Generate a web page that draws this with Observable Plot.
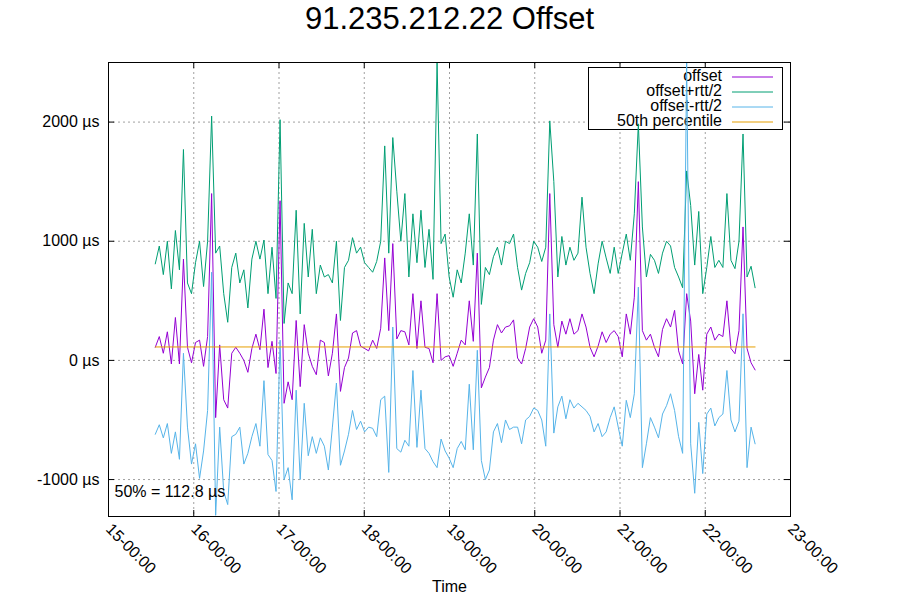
<!DOCTYPE html>
<html>
<head>
<meta charset="utf-8">
<script src="https://cdn.jsdelivr.net/npm/d3@7"></script>
<script src="https://cdn.jsdelivr.net/npm/@observablehq/plot@0.6"></script>
<style>
html, body { margin: 0; padding: 0; background: #fff; }
#chart { width: 900px; height: 600px; }
</style>
</head>
<body>
<div id="chart"></div>
<script>
const chartTitle = "91.235.212.22 Offset";
const xLabel = "Time";
const seriesNames = ["offset", "offset+rtt/2", "offset-rtt/2", "50th percentile"];
const seriesColors = ["#9400d3", "#009e73", "#56b4e9", "#e69f00"];
const medianValue = 112.8;
const startTime = "2024-01-15T13:10:00Z";
const stepMinutes = 68;
const xTickDays = [15, 16, 17, 18, 19, 20, 21, 22, 23];
const yTicks = [-1000, 0, 1000, 2000];
const xDomain = ["2024-01-15T00:00:00Z", "2024-01-23T00:00:00Z"];
const yDomain = [-1310, 2500];

// offset (µs)
const offset = [
  110, 200, 60, 240, -30, 360, -30, 850, 110, -20,
  150, 170, -50, 200, 1400, -480, 130, -330, -400, 60,
  110, 60, 0, -100, 100, 220, 90, 430, -60, 160,
  -110, 1340, -360, -180, -330, 335, -220, 300, 60, -50,
  -120, 170, 150, -130, 60, 390, -260, -60, 20, 230,
  250, 120, 100, 80, 170, 100, 270, 860, 250, 980,
  180, 250, 240, 130, 560, 100, 500, 110, 100, -20,
  560, 0, 30, 40, -50, 60, 170, 130, 500, 160,
  900, -230, -140, -60, 170, 300, 230, 280, 290, 340,
  20, -30, 100, 280, 350, 280, 60, 170, 1400, 300,
  110, 330, 220, 350, 220, 250, 390, 280, 110, 30,
  120, 240, 150, 220, 250, 200, 30, 390, 220, 530,
  1500, 250, 170, 220, 110, 30, 260, 350, 280, 420,
  80, -30, 560, 330, -280, 50, -250, 220, 280, 170,
  220, 200, 500, 100, 56, 250, 1120, 100, -20, -80
];
// offset + rtt/2 (µs)
const offsetPlus = [
  810, 960, 720, 1000, 600, 1090, 760, 1770, 650, 560,
  820, 1000, 620, 1000, 2050, 900, 960, 560, 320, 780,
  900, 650, 760, 440, 850, 1000, 850, 1010, 560, 950,
  520, 2020, 310, 650, 560, 1260, 390, 1150, 700, 1100,
  560, 800, 700, 720, 650, 1000, 335, 780, 840, 1030,
  900, 950, 820, 780, 740, 830, 1000, 1800, 900, 1870,
  1420, 1000, 1400, 700, 1230, 820, 1260, 780, 1100, 680,
  2500, 980, 1060, 700, 530, 760, 650, 900, 1230, 800,
  1900, 470, 780, 720, 870, 950, 800, 1000, 980, 1060,
  780, 590, 730, 820, 1000, 950, 830, 950, 2010, 1500,
  700, 1040, 800, 950, 840, 900, 1370, 950, 730, 560,
  810, 1000, 860, 730, 950, 730, 900, 1060, 840, 1230,
  1985, 1120, 700, 890, 840, 730, 900, 1000, 960, 780,
  700, 610, 1590, 1300, 800, 1250, 560, 780, 1040, 780,
  840, 780, 1400, 840, 770, 1000, 1900, 700, 790, 610
];
// offset - rtt/2 (µs)
const offsetMinus = [
  -620, -540, -650, -530, -780, -600, -830, 60, -560, -870,
  -700, -990, -760, -420, 740, -1300, -560, -1100, -1210, -640,
  -620, -560, -870, -780, -640, -530, -720, -170, -790, -840,
  -1100, 170, -1000, -900, -1170, -250, -1000, -360, -800, -640,
  -780, -650, -720, -920, -560, -190, -880, -760, -620, -420,
  -580, -510, -600, -560, -570, -640, -330, -300, -940, 280,
  -740, -770, -670, -720, -85, -730, -250, -740, -780, -850,
  -900, -660, -760, -820, -900, -740, -680, -750, -200, -750,
  85, -840, -1000, -920, -600, -530, -690, -500, -580, -560,
  -560, -700, -500, -470, -400, -420, -500, -720, 390, -610,
  -390, -300, -490, -330, -400, -360, -390, -420, -470, -600,
  -530, -640, -600, -480, -390, -560, -720, -335, -480, -280,
  615, -900, -700, -480, -560, -650, -450, -380, -280, -420,
  -640, -780, 2500, -700, -1115, -520, -950, -450, -400, -550,
  -480, -450, -85, -500, -600, -510, 391, -900, -560, -700
];

const t0 = new Date(startTime).getTime();
const times = offset.map((_, i) => new Date(t0 + i * stepMinutes * 60000));
const rows = times.map((t, i) => ({t, offset: offset[i], plus: offsetPlus[i], minus: offsetMinus[i]}));
const medianRows = [{t: times[0], v: medianValue}, {t: times[times.length - 1], v: medianValue}];
const tickDates = xTickDays.map(d => new Date(Date.UTC(2024, 0, d)));
const fmtX = d3.utcFormat("%d-%H:%M");

const W = 900, H = 600, mL = 108, mR = 110, mT = 62, mB = 84;
const frameW = W - mL - mR, frameH = H - mT - mB;
const gridStyle = {stroke: "#a0a0a0", strokeOpacity: 1, strokeWidth: 1, strokeDasharray: "2,3"};

const svg = Plot.plot({
  width: W, height: H,
  marginLeft: mL, marginRight: mR, marginTop: mT, marginBottom: mB,
  style: {fontFamily: "'Liberation Sans', Arial, sans-serif", fontSize: "16px", color: "black", background: "white"},
  x: {type: "utc", domain: xDomain.map(d => new Date(d)), axis: null},
  y: {domain: yDomain},
  marks: [
    Plot.gridY(yTicks, gridStyle),
    Plot.gridX(tickDates, gridStyle),
    Plot.line(rows, {x: "t", y: "offset", stroke: seriesColors[0], strokeWidth: 1}),
    Plot.line(rows, {x: "t", y: "plus", stroke: seriesColors[1], strokeWidth: 1}),
    Plot.line(rows, {x: "t", y: "minus", stroke: seriesColors[2], strokeWidth: 1}),
    Plot.line(medianRows, {x: "t", y: "v", stroke: seriesColors[3], strokeWidth: 1}),
    Plot.tickY(yTicks, {y: d => d, stroke: "black", insetRight: frameW - 6}),
    Plot.tickY(yTicks, {y: d => d, stroke: "black", insetLeft: frameW - 6}),
    Plot.tickX(tickDates, {x: d => d, stroke: "black", insetTop: frameH - 6}),
    Plot.tickX(tickDates, {x: d => d, stroke: "black", insetBottom: frameH - 6}),
    Plot.frame({stroke: "black", strokeWidth: 1}),
    Plot.axisY(yTicks, {tickSize: 0, tickPadding: 9, tickFormat: d => `${d} µs`, fontSize: 16}),
    Plot.text(tickDates, {x: d => d, frameAnchor: "bottom", text: d => fmtX(d), rotate: 45,
      textAnchor: "start", lineAnchor: "middle", dy: 10, fontSize: 16, fill: "black"}),
    Plot.text([chartTitle], {frameAnchor: "top", dy: -43.4, lineAnchor: "middle", fontSize: 31, fill: "black"}),
    Plot.text([xLabel], {frameAnchor: "bottom", dy: 70.5, lineAnchor: "middle", fontSize: 16, fill: "black"}),
    Plot.text([`50% = ${medianValue} µs`], {frameAnchor: "bottom-left", textAnchor: "start",
      lineAnchor: "middle", dx: 6, dy: -24.5, fontSize: 16, fill: "black"})
  ]
});

// Legend (key box) placed above the grid but below the data lines, as gnuplot draws it
const boxRight = W - mR - 8, boxTop = mT + 5, boxW = 194, rowH = 15;
const leg = d3.create("svg:g").attr("aria-label", "legend");
leg.append("rect")
  .attr("x", boxRight - boxW + 0.5).attr("y", boxTop + 0.5)
  .attr("width", boxW).attr("height", rowH * seriesNames.length + 2)
  .attr("fill", "white").attr("stroke", "black");
seriesNames.forEach((name, i) => {
  const cy = boxTop + 9.5 + i * rowH;
  leg.append("text")
    .attr("x", boxRight - 60).attr("y", cy + 4.5)
    .attr("text-anchor", "end").attr("font-size", 16).attr("fill", "black")
    .text(name);
  leg.append("line")
    .attr("x1", boxRight - 50).attr("x2", boxRight - 9)
    .attr("y1", cy + 0.5).attr("y2", cy + 0.5)
    .attr("stroke", seriesColors[i]).attr("stroke-width", 1);
});
const firstLine = svg.querySelector('g[aria-label="line"]');
svg.insertBefore(leg.node(), firstLine);

document.getElementById("chart").appendChild(svg);
</script>
</body>
</html>
